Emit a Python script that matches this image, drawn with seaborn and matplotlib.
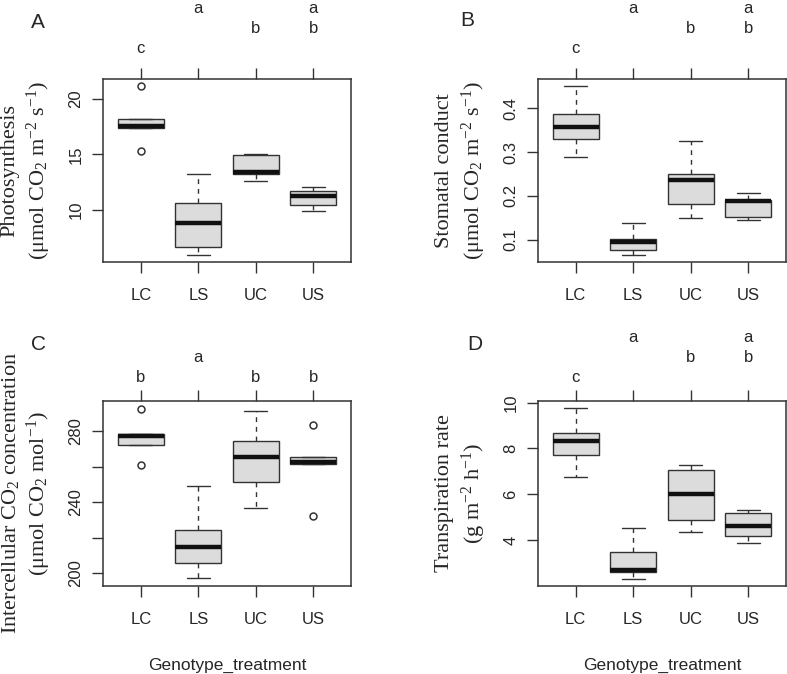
import matplotlib
matplotlib.use('Agg')
import matplotlib.pyplot as plt
import pandas as pd
import seaborn as sns

groups = ['LC', 'LS', 'UC', 'US']

# plant values (whisker ends, hinges, medians, outliers)
photo_LC = [15.3, 17.35, 17.35, 17.45, 17.56, 17.9, 18.16, 18.16, 21.2]
photo_LS = [5.9, 6.63, 8.77, 10.64, 13.22]
photo_UC = [12.62, 13.22, 13.4, 14.97, 15.06]
photo_US = [9.91, 10.4, 11.2, 11.65, 12.01]

cond_LC = [0.289, 0.330, 0.358, 0.386, 0.452]
cond_LS = [0.065, 0.076, 0.094, 0.102, 0.139]
cond_UC = [0.150, 0.182, 0.236, 0.250, 0.326]
cond_US = [0.144, 0.151, 0.189, 0.191, 0.207]

ci_LC = [260.7, 272.3, 272.3, 275.0, 277.2, 278.0, 278.5, 278.5, 292.4]
ci_LS = [197.4, 205.8, 214.8, 224.2, 249.3]
ci_UC = [236.6, 251.3, 265.4, 274.5, 291.4]
ci_US = [232.4, 261.5, 261.5, 262.0, 262.8, 264.0, 265.2, 265.2, 283.2]

trans_LC = [6.74, 7.72, 8.32, 8.68, 9.75]
trans_LS = [2.30, 2.59, 2.68, 3.46, 4.53]
trans_UC = [4.36, 4.89, 6.03, 7.07, 7.26]
trans_US = [3.88, 4.18, 4.62, 5.16, 5.32]

# significance letters above each group
letters_photo = ['c', 'a', 'b', 'ab']
letters_cond = ['c', 'a', 'b', 'ab']
letters_ci = ['b', 'a', 'b', 'b']
letters_trans = ['c', 'a', 'b', 'ab']

yticks_photo = [10, 15, 20]
yticks_cond = [0.1, 0.2, 0.3, 0.4]
yticks_ci = [200, 220, 240, 260, 280]
ytlabels_ci = ['200', '', '240', '', '280']
yticks_trans = [4, 6, 8, 10]

sns.set_style('ticks')
plt.rcParams['font.family'] = ['Liberation Sans', 'DejaVu Sans']
plt.rcParams['mathtext.fontset'] = 'custom'
plt.rcParams['mathtext.rm'] = 'Liberation Serif'
plt.rcParams['mathtext.it'] = 'Liberation Serif:italic'
plt.rcParams['mathtext.bf'] = 'Liberation Serif:bold'

W, H = 787, 674
fig = plt.figure(figsize=(W / 100, H / 100), dpi=100)


def make_ax(x0, y0, x1, y1):
    return fig.add_axes([x0 / W, 1 - y1 / H, (x1 - x0) / W, (y1 - y0) / H])


axA = make_ax(103, 79, 351, 262)
axB = make_ax(537.7, 79, 786.3, 262)
axC = make_ax(103, 401.3, 351, 585.7)
axD = make_ax(537.7, 401.3, 786.3, 585.7)


def to_long(lists):
    rows = []
    for g, vals in zip(groups, lists):
        for v in vals:
            rows.append({'group': g, 'value': v})
    return pd.DataFrame(rows)


panels = [
    (axA, [photo_LC, photo_LS, photo_UC, photo_US], (5.28, 21.8), yticks_photo, None,
     letters_photo, 'Photosynthesis', r'(μmol CO$_2$ m$^{-2}$ s$^{-1}$)', 18.5, False),
    (axB, [cond_LC, cond_LS, cond_UC, cond_US], (0.049, 0.467), yticks_cond, None,
     letters_cond, 'Stomatal conduct', r'(μmol CO$_2$ m$^{-2}$ s$^{-1}$)', 18.5, False),
    (axC, [ci_LC, ci_LS, ci_UC, ci_US], (193.0, 296.7), yticks_ci, ytlabels_ci,
     letters_ci, r'Intercellular CO$_2$ concentration', r'(μmol CO$_2$ mol$^{-1}$)', 13.6, True),
    (axD, [trans_LC, trans_LS, trans_UC, trans_US], (2.0, 10.06), yticks_trans, None,
     letters_trans, 'Transpiration rate', r'(g m$^{-2}$ h$^{-1}$)', 13.8, True),
]

edge = '#333333'
for ax, lists, ylim, yt, ytl, letters, lab1, lab2, base, show_xlab in panels:
    df = to_long(lists)
    sns.boxplot(data=df, x='group', y='value', order=groups, ax=ax,
                color='#dcdcdc', linecolor=edge, linewidth=1.0, width=0.8,
                whiskerprops=dict(linestyle=(0, (3.5, 3.5))),
                capprops=dict(linestyle='-'),
                medianprops=dict(color='#111111', linewidth=3.2),
                flierprops=dict(marker='o', markerfacecolor='none',
                                markeredgecolor=edge, markersize=5,
                                markeredgewidth=1.1))
    ax.set_xlim(-0.66, 3.66)
    ax.set_ylim(*ylim)
    ax.set_yticks(yt)
    if ytl is not None:
        ax.set_yticklabels(ytl)
    ax.set_xlabel('')
    ax.set_ylabel('')
    if show_xlab:
        ax.text(0.5, -0.457, 'Genotype_treatment', transform=ax.transAxes,
                ha='center', va='baseline', fontsize=12.5)
    for s in ax.spines.values():
        s.set_visible(True)
        s.set_color(edge)
        s.set_linewidth(1.1)
    ax.tick_params(axis='x', top=True, labeltop=False, direction='out', length=8,
                   width=1.0, color=edge, labelsize=12, pad=11)
    ax.tick_params(axis='y', direction='out', length=8, width=1.0, color=edge,
                   labelsize=12, labelrotation=90, pad=6)
    for lbl in ax.get_yticklabels():
        lbl.set_va('center')

    # two-line serif y label
    ax.text(-0.374, 0.5, lab1, transform=ax.transAxes, rotation=90,
            ha='center', va='center', fontsize=16, family='Liberation Serif')
    ax.text(-0.258, 0.5, lab2, transform=ax.transAxes, rotation=90,
            ha='center', va='center', fontsize=16, family='Liberation Serif')

    # letters stacked in rows: last letter of the alphabet lowest
    used = sorted(set(''.join(letters)))
    for i, lt in enumerate(letters):
        for ch in lt:
            row = len(used) - 1 - used.index(ch)
            ax.annotate(ch, xy=(i, 1), xycoords=('data', 'axes fraction'),
                        xytext=(0, base + row * 14.5), textcoords='offset points',
                        ha='center', va='baseline', fontsize=12)

fig.text(38 / W, 1 - 22 / H, 'A', fontsize=15, ha='center', va='center')
fig.text(467 / W, 1 - 20 / H, 'B', fontsize=15, ha='center', va='center')
fig.text(38 / W, 1 - 345 / H, 'C', fontsize=15, ha='center', va='center')
fig.text(475 / W, 1 - 345 / H, 'D', fontsize=15, ha='center', va='center')

fig.savefig('out.png', dpi=100)
